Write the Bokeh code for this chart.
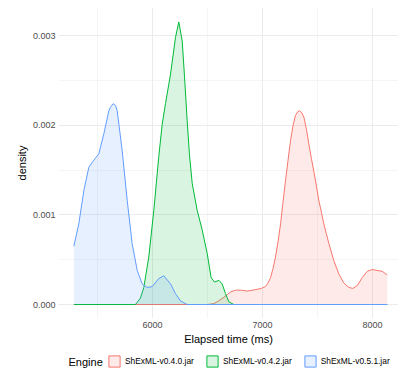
from bokeh.plotting import figure
from bokeh.layouts import column
from bokeh.models import (Range1d, FixedTicker, NumeralTickFormatter, Legend,
                          LegendItem, Label)
from bokeh.embed import file_html
from bokeh.resources import INLINE

FONT = "Liberation Sans"

engines = ["ShExML-v0.4.0.jar", "ShExML-v0.4.2.jar", "ShExML-v0.5.1.jar"]
colors = ["#F8766D", "#00BA38", "#619CFF"]

# Elapsed time (ms) / density
x_040 = [5285, 6500, 6558, 6600, 6648, 6679, 6709, 6755, 6800, 6861, 6910, 6952,
         6990, 7027, 7050, 7073, 7095, 7118, 7141, 7164, 7186, 7209, 7232, 7255,
         7278, 7300, 7320, 7336, 7355, 7376, 7400, 7421, 7444, 7467, 7490, 7512,
         7535, 7557, 7580, 7603, 7648, 7694, 7739, 7785, 7821, 7861, 7906, 7952,
         7997, 8042, 8088, 8134]
d_040 = [0.0, 0.0, 0.00001, 0.00004, 0.00008, 0.00011, 0.00014, 0.00016, 0.00016,
         0.00015, 0.00016, 0.00017, 0.00018, 0.00020, 0.00024, 0.00030, 0.00040,
         0.00053, 0.00070, 0.00090, 0.00114, 0.00138, 0.00161, 0.00183, 0.00200,
         0.00211, 0.00215, 0.00216, 0.00214, 0.00209, 0.00195, 0.00179, 0.00163,
         0.00148, 0.00132, 0.00116, 0.00103, 0.00090, 0.00079, 0.00068, 0.00049,
         0.00034, 0.00024, 0.00019, 0.00018, 0.00021, 0.00030, 0.00037, 0.00039,
         0.00038, 0.00037, 0.00033]

x_042 = [5285, 5845, 5890, 5921, 5966, 6012, 6057, 6088, 6118, 6164, 6209, 6239,
         6270, 6291, 6315, 6336, 6361, 6406, 6452, 6497, 6533, 6564, 6603, 6633,
         6664, 6694, 6739, 8134]
d_042 = [0.0, 0.0, 0.00007, 0.00019, 0.00053, 0.00105, 0.00165, 0.00201, 0.00224,
         0.00257, 0.00298, 0.00315, 0.00294, 0.00254, 0.00205, 0.00167, 0.00135,
         0.00105, 0.00083, 0.00057, 0.00030, 0.00025, 0.00027, 0.00023, 0.00012,
         0.00003, 0.0, 0.0]

x_051 = [5285, 5330, 5376, 5421, 5467, 5512, 5557, 5603, 5618, 5643, 5664, 5679,
         5724, 5770, 5815, 5861, 5906, 5952, 5997, 6057, 6103, 6164, 6209, 6255,
         6315, 8134]
d_051 = [0.00065, 0.00090, 0.00127, 0.00153, 0.00161, 0.00168, 0.00190, 0.00216,
         0.00220, 0.00224, 0.00222, 0.00216, 0.00172, 0.00116, 0.00068, 0.00038,
         0.00023, 0.00019, 0.00020, 0.00029, 0.00032, 0.00023, 0.00012, 0.00004,
         0.0, 0.0]

series_x = [x_040, x_042, x_051]
series_d = [d_040, d_042, d_051]

x_ticks = [6000, 7000, 8000]
x_minor = [5500, 6500, 7500]
y_ticks = [0.0, 0.001, 0.002, 0.003]
y_minor = [0.0005, 0.0015, 0.0025]

p = figure(width=398, height=348, output_backend="svg", toolbar_location=None,
           x_range=Range1d(5145.5, 8236), y_range=Range1d(-0.000156, 0.0033123),
           min_border_left=58, min_border_right=0, min_border_top=7,
           min_border_bottom=30)
p.outline_line_color = None
p.background_fill_color = "white"
p.border_fill_color = "white"

p.xaxis.ticker = FixedTicker(ticks=x_ticks, minor_ticks=x_minor)
p.yaxis.ticker = FixedTicker(ticks=y_ticks, minor_ticks=y_minor)
p.yaxis.formatter = NumeralTickFormatter(format="0.000")
p.xaxis.formatter = NumeralTickFormatter(format="0")

for ax in (p.xaxis, p.yaxis):
    ax.axis_line_color = None
    ax.major_tick_line_color = None
    ax.minor_tick_line_color = None
    ax.major_tick_out = 0
    ax.major_tick_in = 0
    ax.minor_tick_out = 0
    ax.minor_tick_in = 0
    ax.major_label_text_font = FONT
    ax.major_label_text_font_size = "9px"
    ax.major_label_text_color = "#4D4D4D"
    ax.major_label_standoff = 3
    ax.axis_label_text_font = FONT
    ax.axis_label_text_font_size = "11px"
    ax.axis_label_text_font_style = "normal"
    ax.axis_label_text_color = "black"
    ax.axis_label_standoff = 2

p.xaxis.axis_label = "Elapsed time (ms)"
p.yaxis.axis_label = "density"

for g in (p.xgrid, p.ygrid):
    g.grid_line_color = "#EBEBEB"
    g.grid_line_width = 1
    g.minor_grid_line_color = "#EFEFEF"
    g.minor_grid_line_width = 0.6

for name, col, xs, ds in zip(engines, colors, series_x, series_d):
    p.varea(x=xs, y1=[0.0] * len(xs), y2=ds, fill_color=col, fill_alpha=0.15)
    p.line(x=xs, y=ds, line_color=col, line_width=1)

# legend strip below the plot
q = figure(width=398, height=20, output_backend="svg", toolbar_location=None,
           x_range=Range1d(0, 1), y_range=Range1d(0, 1),
           min_border_left=0, min_border_right=0, min_border_top=0,
           min_border_bottom=0)
q.axis.visible = False
q.grid.visible = False
q.outline_line_color = None
q.background_fill_color = "white"
q.border_fill_color = "white"

items = []
for name, col in zip(engines, colors):
    key = q.rect(x=[float("nan")], y=[float("nan")], width=1, height=1,
                 fill_color=col, fill_alpha=0.15, line_color=col, line_width=1)
    items.append(LegendItem(label=name, renderers=[key]))

legend = Legend(items=items, orientation="horizontal", location=(49, 0),
                glyph_width=14, glyph_height=14, label_standoff=4, spacing=11,
                padding=0, margin=0, border_line_color=None,
                background_fill_alpha=0, label_text_font=FONT,
                label_text_font_size="8.4px", label_text_color="black",
                label_height=14)
q.add_layout(legend, "center")
q.add_layout(Label(x=10, y=7, x_units="screen", y_units="screen",
                   text="Engine", text_font=FONT, text_font_size="11px",
                   text_baseline="middle", text_color="black"))

layout = column(p, q, spacing=0)
open("out.html", "w").write(file_html(layout, INLINE))
